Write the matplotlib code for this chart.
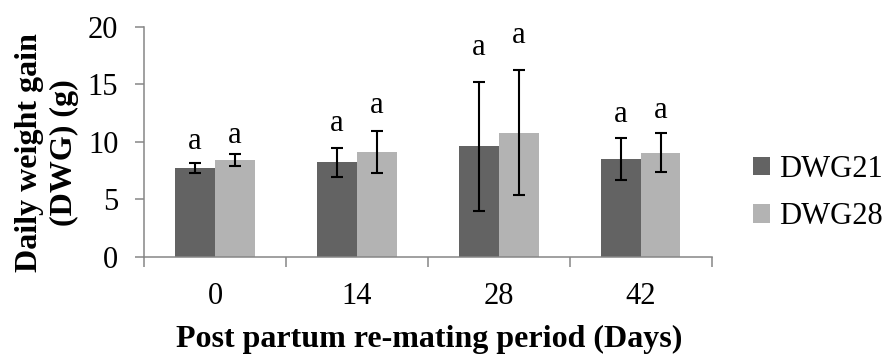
import matplotlib.pyplot as plt
import numpy as np

# data
days = ['0', '14', '28', '42']
dwg21 = [7.7, 8.2, 9.6, 8.5]
dwg21_sd = [0.46, 1.23, 5.6, 1.8]
dwg28 = [8.4, 9.1, 10.8, 9.05]
dwg28_sd = [0.55, 1.8, 5.45, 1.72]
letters21 = ['a', 'a', 'a', 'a']
letters28 = ['a', 'a', 'a', 'a']
# baseline of the letters (data units)
letter21_y = [9.35, 10.93, 17.54, 11.71]
letter28_y = [9.91, 12.47, 18.61, 12.1]

plt.rcParams['font.family'] = ['Liberation Serif', 'DejaVu Serif']

fig = plt.figure(figsize=(8.86, 3.54), dpi=100)
ax = fig.add_axes([144 / 886, 1 - 256.7 / 354, (711.7 - 144) / 886, 230 / 354])

x = np.arange(len(days))
w = 0.28
err_kw = dict(ecolor='black', elinewidth=1.5, capsize=4.5, capthick=1.5)
ax.bar(x - w / 2, dwg21, w, yerr=dwg21_sd, color='#636363', label='DWG21', error_kw=err_kw)
ax.bar(x + w / 2, dwg28, w, yerr=dwg28_sd, color='#b3b3b3', label='DWG28', error_kw=err_kw)

for i in range(len(days)):
    ax.text(x[i] - w / 2, letter21_y[i], letters21[i], ha='center', va='baseline', fontsize=22)
    ax.text(x[i] + w / 2, letter28_y[i], letters28[i], ha='center', va='baseline', fontsize=22)

ax.set_xlim(-0.5, len(days) - 0.5)
ax.set_ylim(0, 20)
ax.set_yticks([0, 5, 10, 15, 20])
ax.set_xticks(x)
ax.set_xticklabels(days)
ax.set_xticks(np.arange(-0.5, len(days), 1), minor=True)

for s in ['top', 'right']:
    ax.spines[s].set_visible(False)
for s in ['left', 'bottom']:
    ax.spines[s].set_color('#868686')
    ax.spines[s].set_linewidth(1.1)

ax.tick_params(axis='y', direction='out', length=6.5, width=1.1, color='#868686', pad=12, labelsize=22)
ax.tick_params(axis='x', which='major', length=0, pad=18.5, labelsize=22)
ax.tick_params(axis='x', which='minor', direction='out', length=7, width=1.1, color='#868686')

fig.text(429 / 886, 7 / 354, 'Post partum re-mating period (Days)', ha='center', va='baseline',
         fontsize=23, fontweight='bold')
fig.text(47 / 886, 1 - 153 / 354, 'Daily weight gain\n(DWG) (g)', ha='center', va='center',
         rotation=90, fontsize=23, fontweight='bold', multialignment='center', linespacing=1.3)

fig.legend(loc='center left', bbox_to_anchor=(753 / 886, 1 - 193 / 354), frameon=False, fontsize=22,
           handlelength=0.55, handleheight=0.55, handletextpad=0.3, labelspacing=0.6, borderpad=0,
           borderaxespad=0)

plt.savefig('out.png', dpi=100)
